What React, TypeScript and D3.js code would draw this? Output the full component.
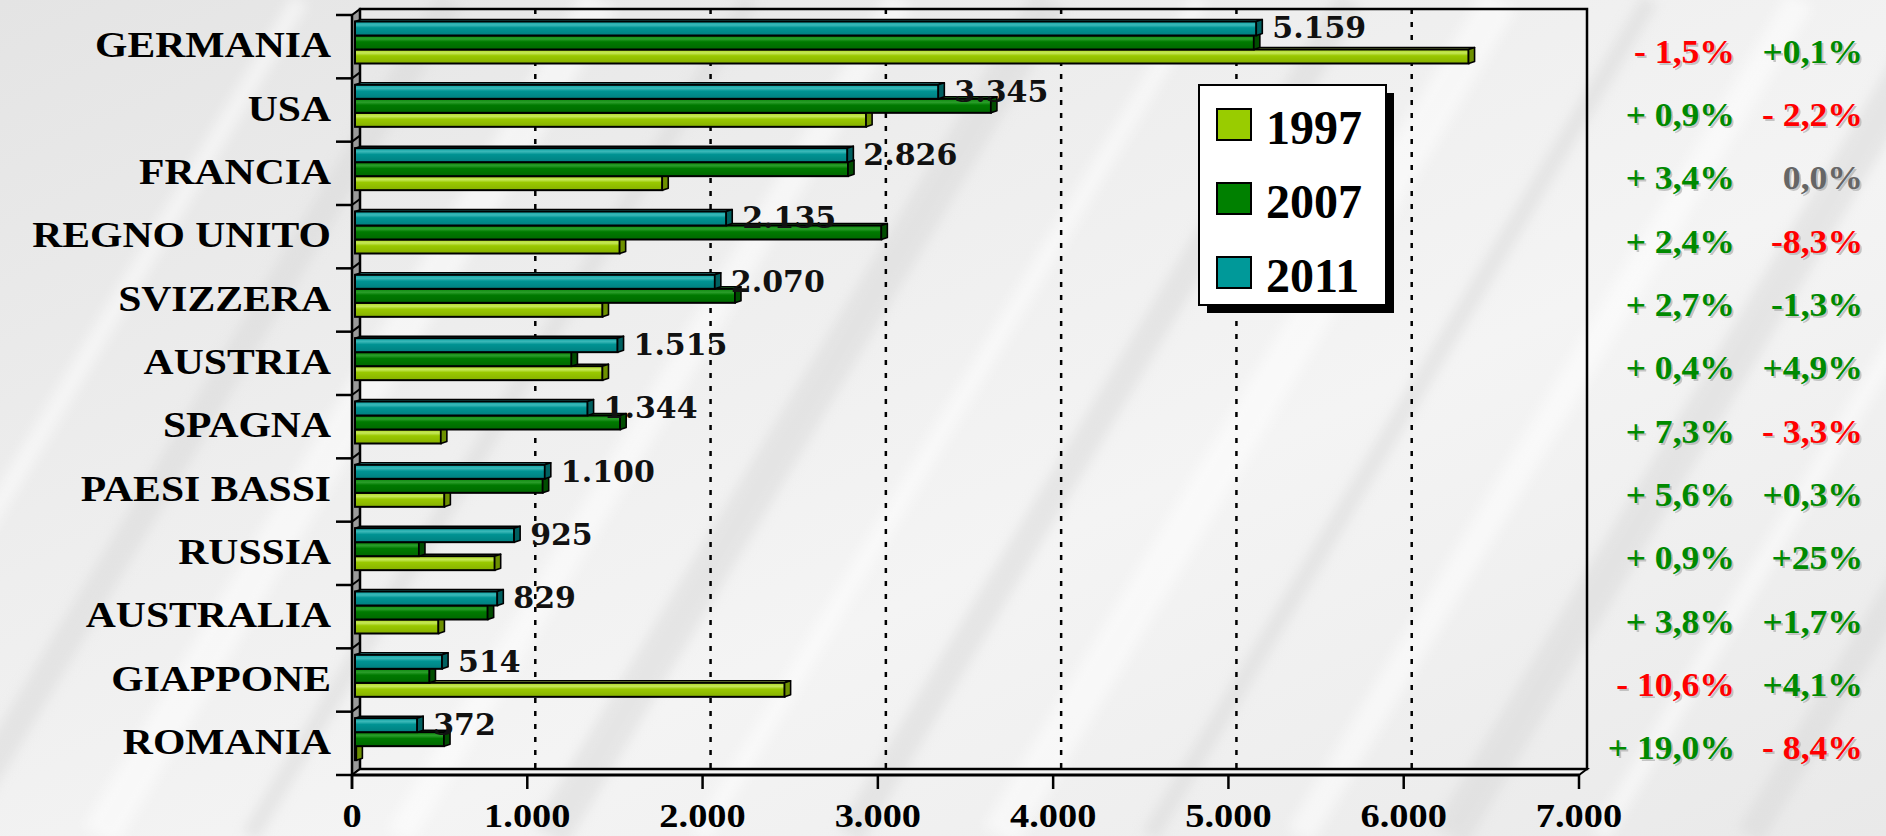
import React from "react";
import * as d3 from "d3";

const categories = ["GERMANIA", "USA", "FRANCIA", "REGNO UNITO", "SVIZZERA", "AUSTRIA", "SPAGNA", "PAESI BASSI", "RUSSIA", "AUSTRALIA", "GIAPPONE", "ROMANIA"];
const years = ["1997", "2007", "2011"];
const values1997 = [6370, 2933, 1770, 1527, 1429, 1429, 507, 527, 814, 493, 2468, 25];
const values2007 = [5145, 3645, 2830, 3020, 2185, 1252, 1530, 1088, 382, 774, 442, 525];
const values2011 = [5159, 3345, 2826, 2135, 2070, 1515, 1344, 1100, 925, 829, 514, 372];
const xTicks = [0, 1000, 2000, 3000, 4000, 5000, 6000, 7000];
const pctCol1 = ["- 1,5%", "+ 0,9%", "+ 3,4%", "+ 2,4%", "+ 2,7%", "+ 0,4%", "+ 7,3%", "+ 5,6%", "+ 0,9%", "+ 3,8%", "- 10,6%", "+ 19,0%"];
const pctCol1Tone = ["neg", "pos", "pos", "pos", "pos", "pos", "pos", "pos", "pos", "pos", "neg", "pos"];
const pctCol2 = ["+0,1%", "- 2,2%", "0,0%", "-8,3%", "-1,3%", "+4,9%", "- 3,3%", "+0,3%", "+25%", "+1,7%", "+4,1%", "- 8,4%"];
const pctCol2Tone = ["pos", "neg", "zero", "neg", "pos", "pos", "neg", "pos", "pos", "pos", "pos", "neg"];

const W = 1886;
const H = 836;
const FONT = "'Liberation Serif', 'Times New Roman', serif";

const seriesStyle: Record<string, { top: string; hi: string; base: string; bottom: string; cap: string; swatch: string }> = {
  "1997": { top: "#a9d61a", hi: "#c6e85a", base: "#99c800", bottom: "#86b000", cap: "#6d9000", swatch: "#99cc00" },
  "2007": { top: "#0a8a0a", hi: "#2a9d2a", base: "#007a00", bottom: "#006800", cap: "#004d00", swatch: "#008000" },
  "2011": { top: "#0aa3a3", hi: "#3ab8b8", base: "#009393", bottom: "#007f7f", cap: "#006060", swatch: "#009999" },
};
const toneColor: Record<string, string> = { pos: "#008a00", neg: "#ff0000", zero: "#666666" };

export default function App() {
  const x = d3.scaleLinear().domain([0, 7000]).range([352, 1579]);
  const y = d3.scaleBand<string>().domain(categories).range([15, 775]).padding(0);
  const fmt = d3.formatLocale({ decimal: ",", thousands: ".", grouping: [3], currency: ["", ""] }).format(",d");

  const depthX = 8;
  const depthY = 6;
  const barDx = 6;
  const barDy = 2;
  const barH = 14;
  const floorY = y.range()[1];
  const topY = y.range()[0];
  const x0 = x(0);
  const x7 = x(7000);

  const seriesValues: Record<string, number[]> = { "1997": values1997, "2007": values2007, "2011": values2011 };
  const seriesOffset: Record<string, number> = { "2011": 6.5, "2007": 20.5, "1997": 34.5 };
  const drawOrder = ["1997", "2007", "2011"];

  const bars: JSX.Element[] = [];
  categories.forEach((c, i) => {
    drawOrder.forEach((s) => {
      const v = seriesValues[s][i];
      const bx0 = x0 + 3;
      const bx1 = x(v);
      const by0 = (y(c) as number) + seriesOffset[s];
      const st = seriesStyle[s];
      bars.push(
        <g key={c + s}>
          <polygon
            points={`${bx0},${by0} ${bx0 + barDx},${by0 - barDy} ${bx1 + barDx},${by0 - barDy} ${bx1},${by0}`}
            fill={st.hi}
            stroke="#000"
            strokeWidth={1.5}
            strokeLinejoin="round"
          />
          <rect x={bx0} y={by0} width={Math.max(0, bx1 - bx0)} height={barH} fill={`url(#grad${s})`} stroke="#000" strokeWidth={2} />
          <polygon
            points={`${bx1},${by0} ${bx1 + barDx},${by0 - barDy} ${bx1 + barDx},${by0 + barH - barDy} ${bx1},${by0 + barH}`}
            fill={st.cap}
            stroke="#000"
            strokeWidth={1.6}
            strokeLinejoin="round"
          />
        </g>
      );
    });
  });

  const bandTicks = d3.range(categories.length + 1).map((k) => topY + k * y.step());

  return (
    <svg width={W} height={H} style={{ position: "absolute", left: 0, top: 0, display: "block" }}>
      <defs>
        <linearGradient id="bg" x1="0" y1="0" x2="1" y2="1">
          <stop offset="0" stopColor="#e4e4e4" />
          <stop offset="0.35" stopColor="#eeeeee" />
          <stop offset="0.6" stopColor="#f4f4f4" />
          <stop offset="1" stopColor="#e9e9e9" />
        </linearGradient>
        {years.map((s) => (
          <linearGradient key={s} id={`grad${s}`} x1="0" y1="0" x2="0" y2="1">
            <stop offset="0" stopColor={seriesStyle[s].top} />
            <stop offset="0.25" stopColor={seriesStyle[s].hi} />
            <stop offset="0.45" stopColor={seriesStyle[s].base} />
            <stop offset="1" stopColor={seriesStyle[s].bottom} />
          </linearGradient>
        ))}
        <filter id="soft" x="-20%" y="-20%" width="140%" height="140%">
          <feGaussianBlur stdDeviation="6" />
        </filter>
      </defs>

      {/* background */}
      <rect x={0} y={0} width={W} height={H} fill="url(#bg)" />
      <g filter="url(#soft)" opacity={0.5}>
        {d3.range(14).map((k) => (
          <line key={k} x1={-200 + k * 150} y1={H} x2={300 + k * 150} y2={0} stroke={k % 2 ? "#d8d8d8" : "#ffffff"} strokeWidth={18 + (k % 3) * 10} />
        ))}
      </g>

      {/* left wall */}
      <polygon points={`${x0},${topY} ${x0 + depthX},${topY - depthY} ${x0 + depthX},${floorY - depthY} ${x0},${floorY}`} fill="#9a9a9a" stroke="#000" strokeWidth={1.5} />
      {bandTicks.map((t, k) => (
        <line key={k} x1={x0} y1={t} x2={x0 + depthX} y2={t - depthY} stroke="#000" strokeWidth={2} />
      ))}
      {/* floor */}
      <polygon points={`${x0},${floorY} ${x7},${floorY} ${x7 + depthX},${floorY - depthY} ${x0 + depthX},${floorY - depthY}`} fill="#f4f4f4" stroke="#000" strokeWidth={2} />
      {/* back wall */}
      <rect x={x0 + depthX} y={topY - depthY} width={x7 - x0} height={floorY - topY} fill="none" stroke="#000" strokeWidth={2.5} />
      {/* gridlines */}
      {xTicks.slice(1, -1).map((t) => (
        <line key={t} x1={x(t) + depthX} y1={topY - depthY} x2={x(t) + depthX} y2={floorY - depthY} stroke="#000" strokeWidth={2.5} strokeDasharray="5 8" />
      ))}

      {/* axes */}
      <line x1={x0} y1={topY} x2={x0} y2={floorY + 14} stroke="#000" strokeWidth={2.5} />
      <line x1={x0} y1={floorY} x2={x7} y2={floorY} stroke="#000" strokeWidth={3} />
      {bandTicks.map((t, k) => (
        <line key={k} x1={x0 - 16} y1={t} x2={x0} y2={t} stroke="#000" strokeWidth={2.5} />
      ))}
      {xTicks.map((t) => (
        <g key={t}>
          <line x1={x(t)} y1={floorY} x2={x(t)} y2={floorY + 14} stroke="#000" strokeWidth={2.5} />
          <text
            transform={`translate(${x(t)},${floorY + 52}) scale(1.13,1)`}
            textAnchor="middle"
            fontFamily={FONT}
            fontWeight="bold"
            fontSize={34}
            fill="#000"
          >
            {fmt(t)}
          </text>
        </g>
      ))}

      {/* category labels */}
      {categories.map((c) => (
        <text
          key={c}
          transform={`translate(331,${(y(c) as number) + y.bandwidth() / 2 - 1}) scale(1.19,1)`}
          textAnchor="end"
          dy="0.33em"
          fontFamily={FONT}
          fontWeight="bold"
          fontSize={35}
          fill="#000"
        >
          {c}
        </text>
      ))}

      {/* bars */}
      {bars}

      {/* value labels for 2011 */}
      {categories.map((c, i) => (
        <text
          key={c}
          x={x(values2011[i]) + 16}
          y={(y(c) as number) + seriesOffset["2011"] + barH / 2 - 1}
          dy="0.36em"
          fontFamily="'DejaVu Serif', serif"
          fontWeight="bold"
          fontSize={30}
          fill="#111"
        >
          {fmt(values2011[i])}
        </text>
      ))}

      {/* legend */}
      <rect x={1207} y={93} width={187} height={220} fill="#000" />
      <rect x={1199} y={85} width={187} height={220} fill="#fff" stroke="#000" strokeWidth={2} />
      {years.map((s, k) => {
        const cy = 124.5 + k * 74;
        return (
          <g key={s}>
            <rect x={1217} y={cy - 15.5} width={34} height={31} fill={seriesStyle[s].swatch} stroke="#000" strokeWidth={2} />
            <text x={1266} y={cy + 3} dy="0.35em" fontFamily={FONT} fontWeight="bold" fontSize={48} fill="#000">
              {s}
            </text>
          </g>
        );
      })}

      {/* percentage columns */}
      {categories.map((c, i) => {
        const cy = (y(c) as number) + y.bandwidth() / 2 + 5;
        return (
          <g key={c}>
            {[
              { t: pctCol1[i], tone: pctCol1Tone[i], xr: 1735 },
              { t: pctCol2[i], tone: pctCol2Tone[i], xr: 1863 },
            ].map((p, k) => (
              <g key={k}>
                <text
                  transform={`translate(${p.xr + 2},${cy + 2}) scale(1.08,1)`}
                  textAnchor="end"
                  dy="0.33em"
                  fontFamily={FONT}
                  fontWeight="bold"
                  fontSize={33}
                  fill="#b0b0b0"
                  opacity={0.7}
                >
                  {p.t}
                </text>
                <text
                  transform={`translate(${p.xr},${cy}) scale(1.08,1)`}
                  textAnchor="end"
                  dy="0.33em"
                  fontFamily={FONT}
                  fontWeight="bold"
                  fontSize={33}
                  fill={toneColor[p.tone]}
                >
                  {p.t}
                </text>
              </g>
            ))}
          </g>
        );
      })}
    </svg>
  );
}
